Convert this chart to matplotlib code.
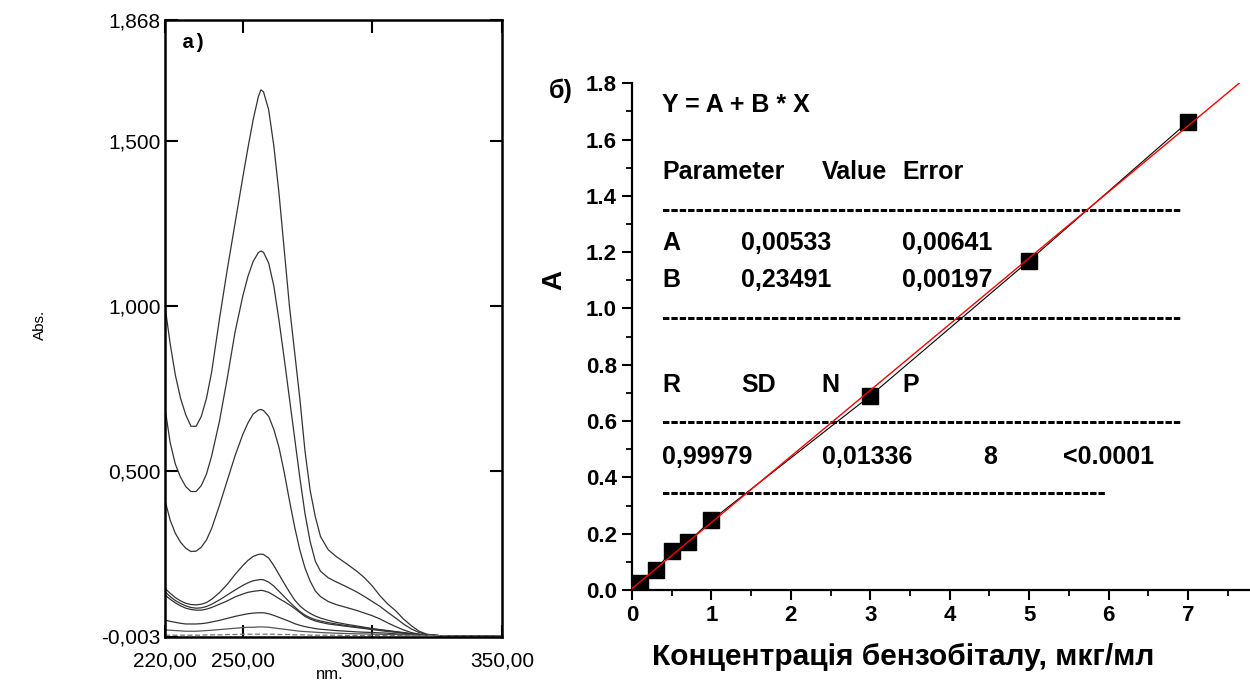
import numpy as np
import matplotlib.pyplot as plt
from matplotlib.ticker import MultipleLocator

plt.rcParams['font.family'] = ['Liberation Sans', 'DejaVu Sans']

# ---- a) UV spectra ----
wl = [220, 222, 224, 226, 228, 230, 232, 234, 236, 238, 241, 244, 247, 250, 252, 254,
      256, 257, 258, 260, 262, 264, 266, 268, 270, 272, 274, 276, 278, 280, 283, 286,
      290, 294, 297, 300, 303, 306, 309, 312, 315, 318, 321, 325, 330, 340, 350]

abs_7 = [1.00, 0.885, 0.79, 0.72, 0.67, 0.635, 0.635, 0.665, 0.72, 0.80, 0.96, 1.11, 1.25, 1.39,
         1.48, 1.565, 1.635, 1.656, 1.65, 1.595, 1.485, 1.34, 1.17, 1.00, 0.86, 0.72, 0.56, 0.44,
         0.36, 0.30, 0.26, 0.24, 0.218, 0.195, 0.175, 0.15, 0.12, 0.095, 0.075, 0.05, 0.03, 0.013,
         0.004, 0.0, -0.002, -0.002, -0.003]
abs_5 = [0.69, 0.585, 0.52, 0.48, 0.452, 0.437, 0.437, 0.455, 0.49, 0.545, 0.65, 0.78, 0.92, 1.03,
         1.09, 1.135, 1.162, 1.167, 1.163, 1.13, 1.06, 0.955, 0.84, 0.72, 0.60, 0.48, 0.37, 0.285,
         0.225, 0.195, 0.175, 0.163, 0.148, 0.132, 0.118, 0.103, 0.088, 0.07, 0.053, 0.035, 0.02,
         0.009, 0.003, 0.0, -0.002, -0.002, -0.003]
abs_3 = [0.41, 0.35, 0.31, 0.283, 0.265, 0.255, 0.256, 0.268, 0.29, 0.325, 0.395, 0.47, 0.545, 0.61,
         0.645, 0.672, 0.684, 0.686, 0.683, 0.665, 0.625, 0.57, 0.495, 0.41, 0.33, 0.26, 0.205, 0.165,
         0.135, 0.118, 0.103, 0.094, 0.085, 0.076, 0.068, 0.06, 0.05, 0.038, 0.027, 0.017, 0.009,
         0.004, 0.001, 0.0, -0.002, -0.002, -0.003]
abs_1 = [0.143, 0.128, 0.115, 0.105, 0.098, 0.094, 0.093, 0.095, 0.10, 0.11, 0.13, 0.155, 0.185, 0.212,
         0.228, 0.24, 0.246, 0.247, 0.246, 0.235, 0.212, 0.185, 0.158, 0.132, 0.108, 0.09, 0.077,
         0.067, 0.059, 0.053, 0.046, 0.04, 0.034, 0.029, 0.025, 0.021, 0.018, 0.015, 0.012, 0.009,
         0.006, 0.003, 0.001, 0.0, -0.002, -0.002, -0.003]
abs_07 = [0.133, 0.118, 0.106, 0.097, 0.09, 0.085, 0.083, 0.084, 0.088, 0.095, 0.108, 0.123, 0.138,
          0.152, 0.16, 0.166, 0.169, 0.17, 0.169, 0.162, 0.15, 0.134, 0.118, 0.102, 0.087, 0.073,
          0.062, 0.054, 0.048, 0.044, 0.039, 0.035, 0.03, 0.026, 0.023, 0.02, 0.017, 0.014, 0.011,
          0.008, 0.005, 0.003, 0.001, 0.0, -0.002, -0.002, -0.003]
abs_05 = [0.123, 0.11, 0.099, 0.09, 0.083, 0.079, 0.077, 0.077, 0.08, 0.085, 0.095, 0.105, 0.117,
          0.126, 0.131, 0.134, 0.136, 0.137, 0.136, 0.131, 0.122, 0.112, 0.103, 0.093, 0.082, 0.07,
          0.058, 0.05, 0.044, 0.04, 0.035, 0.032, 0.028, 0.024, 0.021, 0.018, 0.015, 0.012, 0.01,
          0.007, 0.005, 0.003, 0.001, 0.0, -0.002, -0.002, -0.003]
abs_03 = [0.047, 0.043, 0.04, 0.037, 0.035, 0.035, 0.035, 0.036, 0.038, 0.041, 0.046, 0.052, 0.058,
          0.063, 0.066, 0.068, 0.069, 0.069, 0.069, 0.066, 0.061, 0.055, 0.049, 0.043, 0.036, 0.031,
          0.027, 0.024, 0.021, 0.019, 0.017, 0.015, 0.013, 0.011, 0.01, 0.009, 0.008, 0.007, 0.005,
          0.004, 0.003, 0.002, 0.001, 0.0, -0.002, -0.002, -0.003]
abs_01 = [0.017, 0.016, 0.015, 0.014, 0.013, 0.013, 0.013, 0.014, 0.015, 0.016, 0.018, 0.02, 0.022,
          0.024, 0.025, 0.025, 0.026, 0.026, 0.026, 0.025, 0.023, 0.021, 0.019, 0.017, 0.015, 0.013,
          0.012, 0.011, 0.01, 0.009, 0.008, 0.007, 0.006, 0.005, 0.005, 0.004, 0.004, 0.003, 0.003,
          0.002, 0.002, 0.001, 0.001, 0.0, -0.002, -0.002, -0.003]
abs_0 = [0.001, 0.001, 0.001, 0.001, 0.001, 0.001, 0.001, 0.001, 0.002, 0.002, 0.002, 0.003, 0.003,
         0.004, 0.004, 0.004, 0.004, 0.004, 0.004, 0.004, 0.004, 0.003, 0.003, 0.003, 0.002, 0.002,
         0.002, 0.001, 0.001, 0.001, 0.001, 0.001, 0.0, 0.0, 0.0, 0.0, 0.0, 0.0, 0.0, 0.0, 0.0, 0.0,
         0.0, 0.0, -0.002, -0.002, -0.003]

spectra = [abs_7, abs_5, abs_3, abs_1, abs_07, abs_05, abs_03]

yticks_a = [-0.003, 0.5, 1.0, 1.5, 1.868]
ylabels_a = ['-0,003', '0,500', '1,000', '1,500', '1,868']
xticks_a = [220, 250, 300, 350]
xlabels_a = ['220,00', '250,00', '300,00', '350,00']

# ---- б) calibration ----
conc = [0.1, 0.3, 0.5, 0.7, 1, 3, 5, 7]
absorb = [0.025, 0.071, 0.14, 0.169, 0.248, 0.69, 1.17, 1.663]
fit_x = [0, 7.8]
fit_y = [0.005, 1.837]

fig = plt.figure(figsize=(12.5, 6.82), dpi=100)

ax1 = fig.add_axes([165/1250, 45.5/682, 337/1250, 616.5/682])
for s in spectra:
    ax1.plot(wl, s, color='#333333', lw=0.9)
ax1.plot(wl, abs_01, color='#555555', lw=0.9)
ax1.plot(wl, abs_0, color='#777777', lw=0.9, ls=(0, (4, 2)))
ax1.set_xlim(220, 350)
ax1.set_ylim(-0.003, 1.868)
ax1.set_xticks(xticks_a)
ax1.set_xticklabels(xlabels_a)
ax1.set_yticks(yticks_a)
ax1.set_yticklabels(ylabels_a)
ax1.tick_params(axis='both', direction='in', length=9, width=1.5, labelsize=15,
                top=True, right=True)
ax1.tick_params(axis='y', pad=3)
ax1.tick_params(axis='x', pad=11)
for sp in ax1.spines.values():
    sp.set_linewidth(1.8)
ax1.text(0.05, 0.963, 'a)', transform=ax1.transAxes, fontsize=15, fontweight='bold',
         family=['Liberation Mono', 'DejaVu Sans Mono'], va='center', ha='left')
fig.text(40/1250, 1 - 325/682, 'Abs.', rotation=90, fontsize=11, ha='center', va='center')
fig.text(330/1250, 1 - 667/682, 'nm.', fontsize=12, ha='center', va='top')

# right panel
ax2 = fig.add_axes([632/1250, 92/682, 618/1250, 506.7/682])
ax2.plot(conc, absorb, color='black', lw=0.8, marker='s', ms=12, mfc='black', mec='black', zorder=3)
ax2.plot(fit_x, fit_y, color='red', lw=1.0, zorder=4)
ax2.set_xlim(0, 7.78)
ax2.set_ylim(0, 1.8)
ax2.spines['top'].set_visible(False)
ax2.spines['right'].set_visible(False)
ax2.spines['left'].set_linewidth(1.6)
ax2.spines['bottom'].set_linewidth(1.6)
ax2.xaxis.set_major_locator(MultipleLocator(1))
ax2.xaxis.set_minor_locator(MultipleLocator(0.5))
ax2.yaxis.set_major_locator(MultipleLocator(0.2))
ax2.yaxis.set_minor_locator(MultipleLocator(0.1))
ax2.yaxis.set_major_formatter(lambda v, p: f'{v:.1f}')
ax2.tick_params(which='major', direction='out', length=7, width=1.5, labelsize=16)
ax2.tick_params(which='minor', direction='out', length=4, width=1.3)
ax2.tick_params(axis='x', pad=4)
ax2.tick_params(axis='y', pad=4)
for lab in ax2.get_xticklabels() + ax2.get_yticklabels():
    lab.set_fontweight('bold')

ax2.set_xlabel('Концентрація бензобіталу, мкг/мл', fontsize=21.5, fontweight='bold')
ax2.xaxis.set_label_coords(0.4385, -0.105)
ax2.set_ylabel('A', fontsize=20, fontweight='bold')
ax2.yaxis.set_label_coords(-0.105, 0.612)
fig.text(561/1250, 1 - 91/682, 'б)', fontsize=18, fontweight='bold', ha='center', va='center')

tk = dict(fontsize=18, fontweight='bold', ha='left', va='center')
ax2.text(0.378, 1.723, 'Y = A + B * X', **tk)
ax2.text(0.378, 1.485, 'Parameter', **tk)
ax2.text(2.39, 1.485, 'Value', **tk)
ax2.text(3.40, 1.485, 'Error', **tk)
ax2.text(0.378, 1.35, '-' * 62, **tk)
ax2.text(0.378, 1.233, 'A', **tk)
ax2.text(1.373, 1.233, '0,00533', **tk)
ax2.text(3.40, 1.233, '0,00641', **tk)
ax2.text(0.378, 1.101, 'B', **tk)
ax2.text(1.373, 1.101, '0,23491', **tk)
ax2.text(3.40, 1.101, '0,00197', **tk)
ax2.text(0.378, 0.966, '-' * 62, **tk)
ax2.text(0.378, 0.728, 'R', **tk)
ax2.text(1.373, 0.728, 'SD', **tk)
ax2.text(2.39, 0.728, 'N', **tk)
ax2.text(3.40, 0.728, 'P', **tk)
ax2.text(0.378, 0.597, '-' * 62, **tk)
ax2.text(0.378, 0.472, '0,99979', **tk)
ax2.text(2.39, 0.472, '0,01336', **tk)
ax2.text(4.42, 0.472, '8', **tk)
ax2.text(5.43, 0.472, '<0.0001', **tk)
ax2.text(0.378, 0.345, '-' * 53, **tk)

fig.savefig('out.png', dpi=100)
